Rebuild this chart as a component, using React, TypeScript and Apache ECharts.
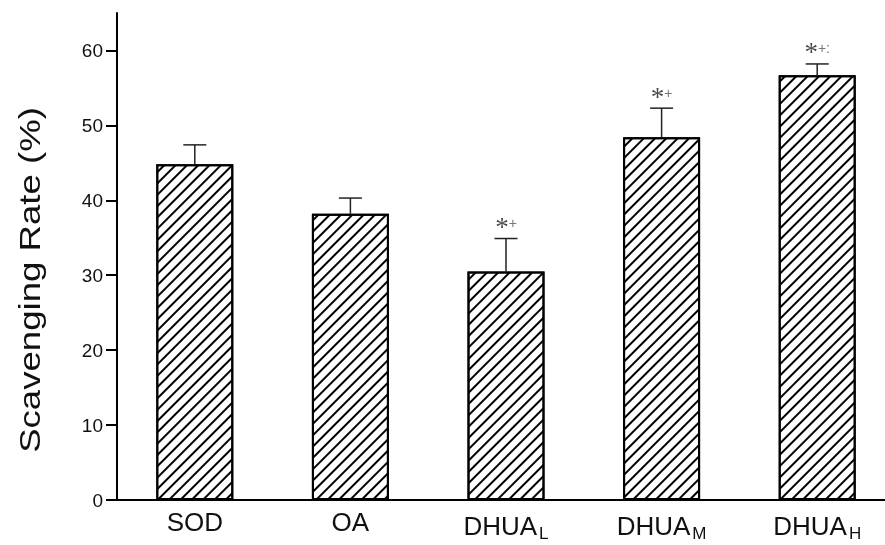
import React, { useEffect, useRef } from "react";
import * as echarts from "echarts";

const categories = ["SOD", "OA", "DHUA_L", "DHUA_M", "DHUA_H"];
const mainNames = ["SOD", "OA", "DHUA", "DHUA", "DHUA"];
const subNames = ["", "", "L", "M", "H"];
const means = [44.8, 38.2, 30.5, 48.4, 56.7];
const errUp = [2.6, 2.1, 4.4, 3.9, 1.5];
const marks = ["", "", "+", "+", "+:"];
const yTicks = [0, 10, 20, 30, 40, 50, 60];

export default function App() {
  const ref = useRef<HTMLDivElement>(null);
  useEffect(() => {
    if (!ref.current) return;
    const chart = echarts.init(ref.current, null, { renderer: "svg" });
    const tops = means.map((m, i) => m + errUp[i]);
    chart.setOption({
      animation: false,
      grid: { left: 117, top: 13, right: -10, bottom: 45, containLabel: false, outerBoundsMode: "none" },
      xAxis: {
        type: "category",
        data: categories,
        axisLine: { lineStyle: { color: "#000", width: 2 } },
        axisTick: { show: false },
        axisLabel: {
          margin: 9,
          color: "#111",
          formatter: (_v: string, i: number) =>
            subNames[i] ? `{a|${mainNames[i]}}{s|${subNames[i]}}` : `{a|${mainNames[i]}}`,
          rich: {
            a: { fontFamily: "Liberation Sans", fontSize: 26, color: "#111" },
            s: { fontFamily: "Liberation Sans", fontSize: 17, color: "#111", padding: [16, 0, 0, 2] },
          },
        },
      },
      yAxis: {
        type: "value",
        min: 0,
        max: 65,
        interval: 10,
        splitLine: { show: false },
        axisLine: { show: true, lineStyle: { color: "#000", width: 2 } },
        axisTick: { show: true, length: 11, customValues: yTicks, lineStyle: { color: "#000", width: 2 } },
        axisLabel: {
          customValues: yTicks,
          margin: 14,
          fontFamily: "Liberation Sans",
          fontSize: 19,
          color: "#111",
        },
      },
      graphic: [
        {
          type: "text",
          x: 30,
          y: 280,
          rotation: Math.PI / 2,
          scaleX: 1.22,
          style: {
            text: "Scavenging Rate (%)",
            fontFamily: "Liberation Sans",
            fontSize: 30,
            fill: "#111",
            textAlign: "center",
            textVerticalAlign: "middle",
            align: "center",
            verticalAlign: "middle",
          },
        },
      ],
      series: [
        {
          type: "bar",
          data: means,
          barWidth: 77,
          itemStyle: {
            color: "#fff",
            borderColor: "#000",
            borderWidth: 2,
            decal: {
              symbol: "rect",
              symbolSize: 1,
              dashArrayX: [1, 0],
              dashArrayY: [1.1, 5.3],
              rotation: -Math.PI / 4,
              color: "#000",
            },
          },
          z: 2,
        },
        {
          type: "custom",
          data: means.map((m, i) => [i, m, tops[i]]),
          renderItem: (_p: any, api: any) => {
            const i = api.value(0);
            const a = api.coord([i, api.value(1)]);
            const b = api.coord([i, api.value(2)]);
            const half = 11.5;
            const style = { stroke: "#222", lineWidth: 1.5 };
            return {
              type: "group",
              children: [
                { type: "line", shape: { x1: a[0], y1: a[1], x2: b[0], y2: b[1] }, style },
                { type: "line", shape: { x1: b[0] - half, y1: b[1], x2: b[0] + half, y2: b[1] }, style },
              ],
            };
          },
          z: 3,
        },
        {
          type: "scatter",
          data: tops.map((t, i) => [i, t]),
          symbolSize: 0,
          silent: true,
          label: {
            show: true,
            position: "top",
            distance: 2,
            offset: [0, 4],
            formatter: (p: any) => (marks[p.dataIndex] ? `{st|*}{pl|${marks[p.dataIndex]}}` : ""),
            rich: {
              st: { fontFamily: "Liberation Serif", fontSize: 27, color: "#1a1a1a", padding: [8, 0, 0, 0] },
              pl: { fontFamily: "Liberation Sans", fontSize: 14, color: "#555" },
            },
          },
          z: 4,
        },
      ],
    });
    return () => chart.dispose();
  }, []);
  return <div ref={ref} style={{ position: "fixed", left: 0, top: 0, width: 885, height: 545 }} />;
}
